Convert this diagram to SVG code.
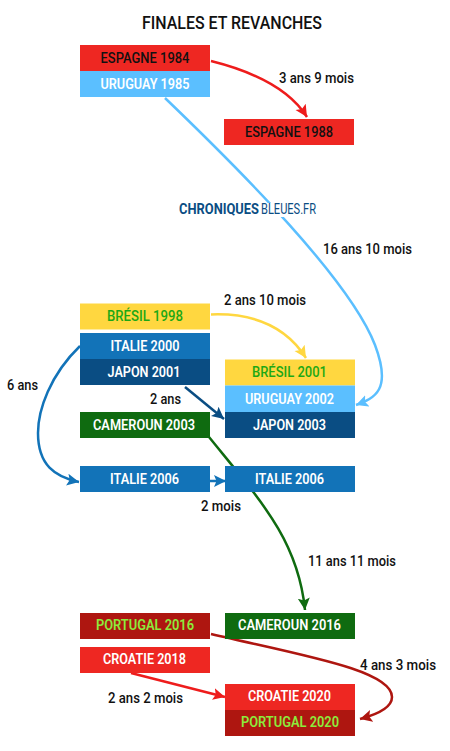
<svg xmlns="http://www.w3.org/2000/svg" width="450" height="751" viewBox="0 0 450 751">
<style>
.t{font-family:"Roboto","Liberation Sans",sans-serif;font-size:14.5px;font-weight:600;text-anchor:middle;dominant-baseline:central;lengthAdjust:spacingAndGlyphs}
.w{fill:#fff}.k{fill:#111;font-weight:500}.g{fill:#1DA814;font-weight:500}.l{fill:#8CEB3C}
.lab{font-family:"Roboto","Liberation Sans",sans-serif;font-size:14px;font-weight:500;fill:#111;dominant-baseline:central}
.c{fill:none;stroke-width:2.5}
.red{fill:#EE2722}.sky{fill:#5BBFFF}.yel{fill:#FFD740}.ita{fill:#1273B8}.nav{fill:#0A4D83}.grn{fill:#0F6B10}.dred{fill:#AE1610}
</style>
<defs>
<marker id="mr" markerUnits="userSpaceOnUse" markerWidth="14" markerHeight="14" refX="12" refY="7" orient="auto"><path d="M0,1 L12,7 L0,13 L2.5,7 Z" fill="#EE1C1C"/></marker>
<marker id="ms" markerUnits="userSpaceOnUse" markerWidth="14" markerHeight="14" refX="12" refY="7" orient="auto"><path d="M0,1 L12,7 L0,13 L2.5,7 Z" fill="#5BBFFF"/></marker>
<marker id="my" markerUnits="userSpaceOnUse" markerWidth="14" markerHeight="14" refX="12" refY="7" orient="auto"><path d="M0,1 L12,7 L0,13 L2.5,7 Z" fill="#FFD740"/></marker>
<marker id="mi" markerUnits="userSpaceOnUse" markerWidth="14" markerHeight="14" refX="12" refY="7" orient="auto"><path d="M0,1 L12,7 L0,13 L2.5,7 Z" fill="#1273B8"/></marker>
<marker id="mn" markerUnits="userSpaceOnUse" markerWidth="14" markerHeight="14" refX="12" refY="7" orient="auto"><path d="M0,1 L12,7 L0,13 L2.5,7 Z" fill="#0A4D83"/></marker>
<marker id="mg" markerUnits="userSpaceOnUse" markerWidth="14" markerHeight="14" refX="12" refY="7" orient="auto"><path d="M0,1 L12,7 L0,13 L2.5,7 Z" fill="#0F6B10"/></marker>
<marker id="md" markerUnits="userSpaceOnUse" markerWidth="14" markerHeight="14" refX="12" refY="7" orient="auto"><path d="M0,1 L12,7 L0,13 L2.5,7 Z" fill="#AE1610"/></marker>
</defs>
<rect width="450" height="751" fill="#fff"/>
<text x="232" y="22.500" style="font-family:'Roboto','Liberation Sans',sans-serif;font-size:18px;font-weight:500;fill:#111;text-anchor:middle;dominant-baseline:central" textLength="180" lengthAdjust="spacingAndGlyphs">FINALES ET REVANCHES</text>
<g id="connectors">
<path class="c" stroke="#5BBFFF" d="M165,98 C240,170 350,280 375,345 C392,390 375,398 356,405" marker-end="url(#ms)"/>
<path class="c" stroke="#EE1C1C" d="M211,61 C255,72 290,90 307,117" marker-end="url(#mr)"/>
<path class="c" stroke="#FFD740" d="M211,314.500 C250,313 285,325 306,358" marker-end="url(#my)"/>
<path class="c" stroke="#1273B8" d="M80,346 C50,375 38,410 38,433 C38,465 55,477 79,482" marker-end="url(#mi)"/>
<path class="c" stroke="#0A4D83" d="M185,387 L224,419" marker-end="url(#mn)"/>
<path class="c" stroke="#0F6B10" d="M209,437 C260,500 298,540 305,610" marker-end="url(#mg)"/>
<path class="c" stroke="#1273B8" d="M210,481 L226,481" marker-end="url(#mi)"/>
<path class="c" stroke="#AE1610" d="M211,634 C300,655 392,670 392,697 C392,708 375,715 360,719" marker-end="url(#md)"/>
<path class="c" stroke="#EE1C1C" d="M131,673 L225,697" marker-end="url(#mr)"/>
</g>
<g id="logo">
<rect x="176" y="203" width="143" height="14" fill="#fff"/>
<text x="179" y="209" style="font-family:'Roboto','Liberation Sans',sans-serif;font-size:14px;font-weight:700;fill:#0A4D83;dominant-baseline:central" textLength="80" lengthAdjust="spacingAndGlyphs">CHRONIQUES</text>
<text x="261" y="209" style="font-family:'Roboto','Liberation Sans',sans-serif;font-size:14px;font-weight:400;fill:#0A4D83;dominant-baseline:central" textLength="55" lengthAdjust="spacingAndGlyphs">BLEUES.FR</text>
</g>
<g id="n-espagne-1984"><rect class="red" x="80" y="45" width="130" height="26"/><text class="t k" x="145" y="58" textLength="89" lengthAdjust="spacingAndGlyphs">ESPAGNE 1984</text></g>
<g id="n-uruguay-1985"><rect class="sky" x="80" y="71" width="130" height="26"/><text class="t w" x="145" y="84" textLength="89" lengthAdjust="spacingAndGlyphs">URUGUAY 1985</text></g>
<g id="n-espagne-1988"><rect class="red" x="224" y="119" width="130" height="26"/><text class="t k" x="289" y="132" textLength="88" lengthAdjust="spacingAndGlyphs">ESPAGNE 1988</text></g>
<g id="n-bresil-1998"><rect class="yel" x="80" y="303.500" width="130" height="26"/><text class="t g" x="145" y="316" textLength="76" lengthAdjust="spacingAndGlyphs">BRÉSIL 1998</text></g>
<g id="n-italie-2000"><rect class="ita" x="80" y="333" width="130" height="26"/><text class="t w" x="145" y="346" textLength="69" lengthAdjust="spacingAndGlyphs">ITALIE 2000</text></g>
<g id="n-japon-2001"><rect class="nav" x="80" y="359" width="130" height="26"/><text class="t w" x="144" y="372" textLength="73" lengthAdjust="spacingAndGlyphs">JAPON 2001</text></g>
<g id="n-cameroun-2003"><rect class="grn" x="80" y="412" width="130" height="26"/><text class="t w" x="144" y="425" textLength="102" lengthAdjust="spacingAndGlyphs">CAMEROUN 2003</text></g>
<g id="n-bresil-2001"><rect class="yel" x="225" y="359.500" width="130" height="26"/><text class="t g" x="289.500" y="372" textLength="75" lengthAdjust="spacingAndGlyphs">BRÉSIL 2001</text></g>
<g id="n-uruguay-2002"><rect class="sky" x="225" y="385.500" width="130" height="26.500"/><text class="t w" x="289.500" y="399" textLength="89" lengthAdjust="spacingAndGlyphs">URUGUAY 2002</text></g>
<g id="n-japon-2003"><rect class="nav" x="225" y="412" width="130" height="26"/><text class="t w" x="289.500" y="425" textLength="73" lengthAdjust="spacingAndGlyphs">JAPON 2003</text></g>
<g id="n-italie-2006a"><rect class="ita" x="80" y="466" width="130" height="26"/><text class="t w" x="144.500" y="479" textLength="69" lengthAdjust="spacingAndGlyphs">ITALIE 2006</text></g>
<g id="n-italie-2006b"><rect class="ita" x="225" y="466" width="130" height="26"/><text class="t w" x="289.500" y="479" textLength="69" lengthAdjust="spacingAndGlyphs">ITALIE 2006</text></g>
<g id="n-portugal-2016"><rect class="dred" x="80" y="613" width="130" height="26"/><text class="t l" x="145" y="625.500" textLength="98" lengthAdjust="spacingAndGlyphs">PORTUGAL 2016</text></g>
<g id="n-cameroun-2016"><rect class="grn" x="225" y="613" width="130" height="26"/><text class="t w" x="289.500" y="625.500" textLength="103" lengthAdjust="spacingAndGlyphs">CAMEROUN 2016</text></g>
<g id="n-croatie-2018"><rect class="red" x="80" y="647" width="130" height="26"/><text class="t w" x="144.500" y="659.500" textLength="83" lengthAdjust="spacingAndGlyphs">CROATIE 2018</text></g>
<g id="n-croatie-2020"><rect class="red" x="225" y="684" width="130" height="26"/><text class="t w" x="289.500" y="696" textLength="83" lengthAdjust="spacingAndGlyphs">CROATIE 2020</text></g>
<g id="n-portugal-2020"><rect class="dred" x="225" y="710" width="130" height="26"/><text class="t l" x="290" y="722.500" textLength="98" lengthAdjust="spacingAndGlyphs">PORTUGAL 2020</text></g>
<g id="labels">
<text class="lab" x="279" y="78" textLength="75" lengthAdjust="spacingAndGlyphs">3 ans 9 mois</text>
<text class="lab" x="323" y="249" textLength="89" lengthAdjust="spacingAndGlyphs">16 ans 10 mois</text>
<text class="lab" x="224" y="300" textLength="82" lengthAdjust="spacingAndGlyphs">2 ans 10 mois</text>
<text class="lab" x="7" y="385" textLength="31" lengthAdjust="spacingAndGlyphs">6 ans</text>
<text class="lab" x="150" y="399" textLength="31" lengthAdjust="spacingAndGlyphs">2 ans</text>
<text class="lab" x="201" y="506" textLength="40" lengthAdjust="spacingAndGlyphs">2 mois</text>
<text class="lab" x="308" y="561" textLength="88" lengthAdjust="spacingAndGlyphs">11 ans 11 mois</text>
<text class="lab" x="360" y="665" textLength="76" lengthAdjust="spacingAndGlyphs">4 ans 3 mois</text>
<text class="lab" x="108" y="698" textLength="75" lengthAdjust="spacingAndGlyphs">2 ans 2 mois</text>
</g>
</svg>
